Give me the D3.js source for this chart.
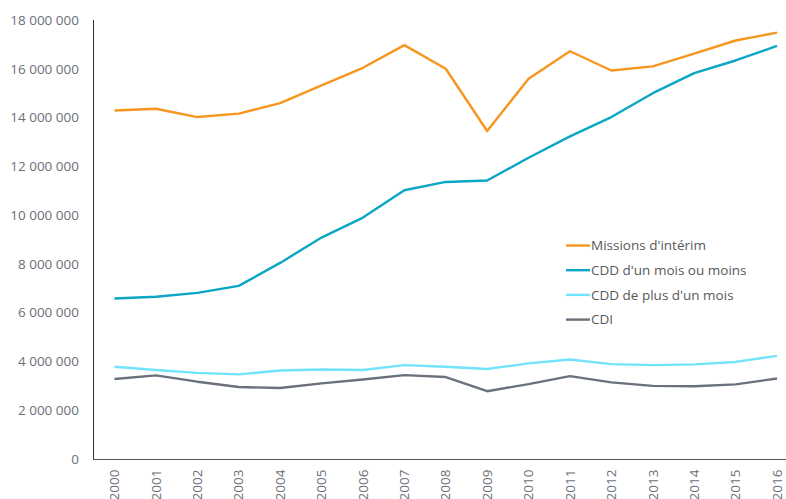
<!DOCTYPE html>
<html>
<head>
<meta charset="utf-8">
<script src="https://cdn.jsdelivr.net/npm/d3@7"></script>
<style>
  body { margin: 0; background: #fff; }
  text { font-family: "Open Sans", sans-serif; }
</style>
</head>
<body>
<div id="chart"></div>
<script>
// data
let years = ["2000","2001","2002","2003","2004","2005","2006","2007","2008",
  "2009","2010","2011","2012","2013","2014","2015","2016"];

let interim = [14.29, 14.36, 14.02, 14.16, 14.59, 15.32, 16.04, 16.97, 16.0,
  13.45, 15.59, 16.72, 15.93, 16.10, 16.62, 17.16, 17.48];
let cddCourt = [6.58, 6.65, 6.81, 7.10, 8.04, 9.08, 9.90, 11.02, 11.36,
  11.42, 12.35, 13.23, 14.02, 15.0, 15.82, 16.34, 16.94];
let cddLong = [3.78, 3.65, 3.53, 3.47, 3.63, 3.67, 3.65, 3.85, 3.78,
  3.69, 3.92, 4.08, 3.89, 3.85, 3.88, 3.98, 4.23];
let cdi = [3.28, 3.43, 3.17, 2.95, 2.91, 3.10, 3.26, 3.44, 3.36,
  2.78, 3.07, 3.40, 3.14, 3.00, 2.98, 3.06, 3.30];

let seriesNames = ["Missions d'intérim", "CDD d'un mois ou moins", "CDD de plus d'un mois", "CDI"];
let seriesColors = ["#F7961E", "#0BA6C4", "#72E3FC", "#6A717C"];
let yTicks = [0, 2, 4, 6, 8, 10, 12, 14, 16, 18];

let series = [interim, cddCourt, cddLong, cdi].map((vals, i) => ({
  name: seriesNames[i],
  color: seriesColors[i],
  values: vals.map((v, j) => ({ year: years[j], v: v * 1e6 }))
}));

let svgWidth = 786;
let svgHeight = 499;

let svg = d3.select("#chart")
  .append("svg")
  .attr("width", svgWidth)
  .attr("height", svgHeight);

let x = d3.scalePoint()
  .domain(years)
  .range([114.5, 777]);

let y = d3.scaleLinear()
  .domain([0, 18e6])
  .range([459, 20]);

// format with spaces as thousands separator
let fmt = d3.formatLocale({ decimal: ",", thousands: " ", grouping: [3], currency: ["", "€"] }).format(",d");

// y axis labels
svg.append("g")
  .selectAll("text")
  .data(yTicks)
  .enter()
  .append("text")
  .attr("x", 79)
  .attr("y", d => y(d * 1e6))
  .attr("dy", "0.35em")
  .attr("text-anchor", "end")
  .style("font-size", "13.5px")
  .style("fill", "#6B7079")
  .text(d => fmt(d * 1e6));

// x axis labels, rotated
svg.append("g")
  .selectAll("text")
  .data(years)
  .enter()
  .append("text")
  .attr("transform", d => `translate(${x(d)}, 469.5) rotate(-90)`)
  .attr("dy", "0.35em")
  .attr("text-anchor", "end")
  .style("font-size", "13.5px")
  .style("fill", "#6B7079")
  .text(d => d);

// axis lines
svg.append("line")
  .attr("x1", 93.5).attr("x2", 93.5)
  .attr("y1", 20).attr("y2", 459.5)
  .attr("stroke", "#333")
  .attr("stroke-width", 1);

svg.append("line")
  .attr("x1", 93).attr("x2", svgWidth)
  .attr("y1", 459.5).attr("y2", 459.5)
  .attr("stroke", "#555")
  .attr("stroke-width", 1.2);

// lines
let line = d3.line()
  .x(d => x(d.year))
  .y(d => y(d.v));

svg.append("g")
  .selectAll("path")
  .data(series.slice().reverse())
  .enter()
  .append("path")
  .attr("d", d => line(d.values))
  .attr("fill", "none")
  .attr("stroke", d => d.color)
  .attr("stroke-width", 2.4)
  .attr("stroke-linejoin", "round");

// legend
let legend = svg.append("g")
  .selectAll("g")
  .data(series)
  .enter()
  .append("g")
  .attr("transform", (d, i) => `translate(566, ${245.5 + i * 24.7})`);

legend.append("line")
  .attr("x1", 0).attr("x2", 24)
  .attr("stroke", d => d.color)
  .attr("stroke-width", 2.4);

legend.append("text")
  .attr("x", 25)
  .attr("dy", "0.35em")
  .style("font-size", "13.5px")
  .style("fill", "#595959")
  .text(d => d.name);
</script>
</body>
</html>
